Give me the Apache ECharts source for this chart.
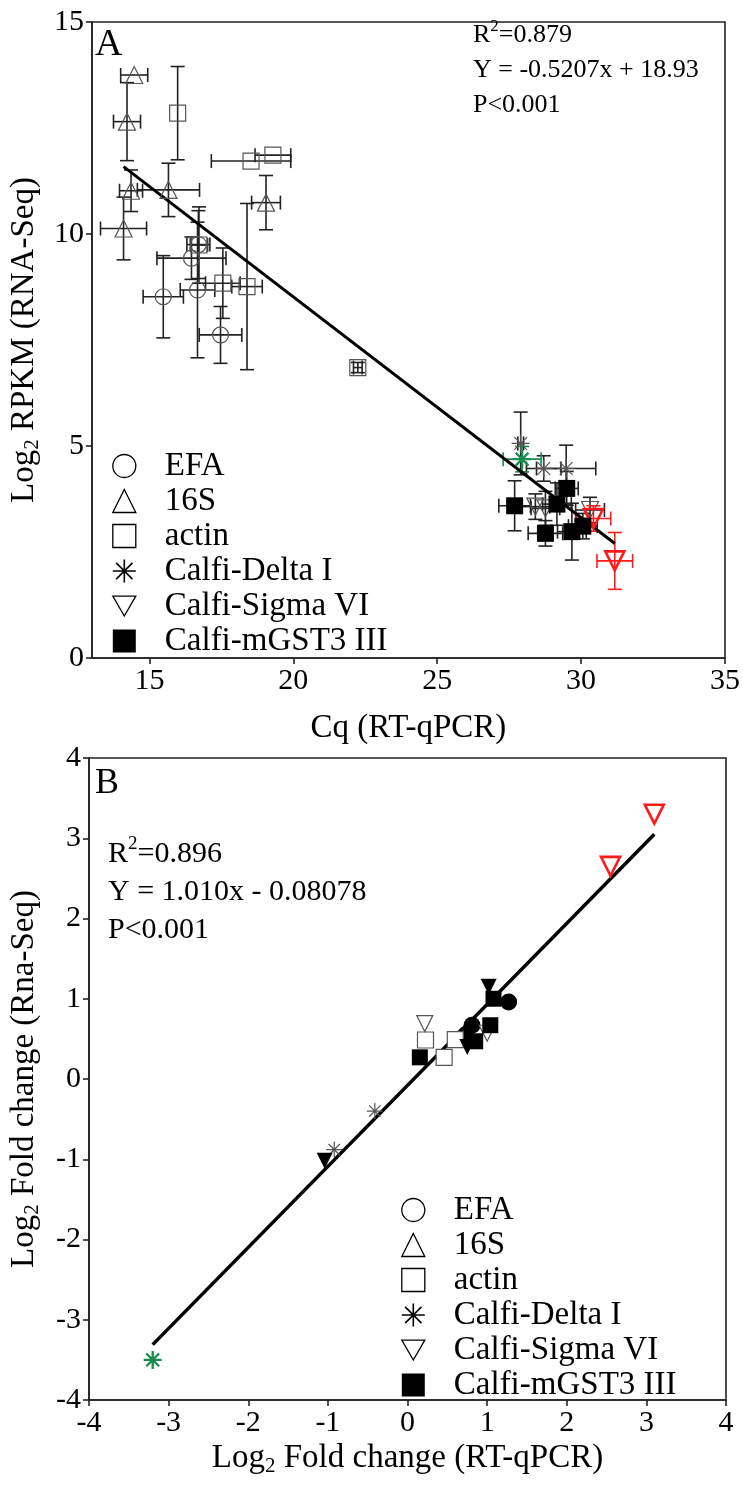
<!DOCTYPE html>
<html><head><meta charset="utf-8">
<script src="https://cdn.jsdelivr.net/npm/echarts@6/dist/echarts.min.js"></script>
<style>html,body{margin:0;padding:0;background:#fff}#c{width:743px;height:1504px}</style>
</head><body><div id="c"></div>
<script>
// ---------- Panel A: [Cq, log2 RPKM, xErr, yErr] ----------
const efaA = [[15.48,8.52,0.7,0.97],[17.47,7.62,0.74,0.67],[16.67,8.68,0.6,1.6],[16.46,9.43,1.2,0.5],[16.7,9.75,0.4,0.8]];
const s16A = [[14.47,13.75,0.47,0],[14.22,12.65,0.47,0.92],[15.66,11.04,1.08,0.63],[14.36,11.02,0.4,0.49],[14.10,10.13,0.8,0.74],[19.05,10.74,0.5,0.64]];
const actinA = [[15.98,12.85,0,1.1],[18.53,11.72,1.38,0],[19.29,11.86,0.62,0],[16.72,9.74,0.3,0.9],[17.55,8.84,0.6,0.83],[18.39,8.76,0.53,1.96],[22.24,6.85,0.15,0.12]];
const deltaA = [[27.9,5.06,0.1,0.74],[28.7,4.47,0.6,0.3],[29.48,4.47,1.03,0.55]];
const deltaGreenA = [[27.95,4.69,0.66,0.3]];
const sigmaA = [[28.41,3.57,0.5,0.3],[28.76,3.53,0.5,0.4],[30.31,3.49,0.5,0.3]];
const sigmaRedA = [[30.43,3.29,0.6,0.3],[31.17,2.29,0.62,0.67]];
const gstA = [[27.69,3.59,0.55,0.59],[29.5,4.0,0.4,0.4],[29.16,3.63,0.5,0.5],[28.76,2.94,0.6,0.3],[29.68,2.98,0.5,0.67],[30.06,3.11,0.5,0.3]];
const trendA = [[14.1,11.59],[31.17,2.70]];
const xTicksA = [15,20,25,30,35];
const yTicksA = [0,5,10,15];

// ---------- Panel B: [log2 FC RT-qPCR, log2 FC RNA-Seq] ----------
const efaB = [[1.27,0.96],[0.81,0.67],[0.73,0.55]];
const actinB = [[0.226,0.486],[0.46,0.27],[0.60,0.49]];
const deltaB = [[-0.41,-0.40],[-0.92,-0.88]];
const deltaGreenB = [[-3.2,-3.5]];
const sigmaOpenB = [[0.217,0.69],[1.0,0.57]];
const sigmaRedB = [[2.55,2.65],[3.1,3.3]];
const sigmaFilledB = [[-1.04,-1.02],[0.75,0.40],[1.02,1.15]];
const gstB = [[0.155,0.27],[0.85,0.47],[1.04,0.67],[1.08,1.0]];
const trendB = [[-3.2,-3.31],[3.1,3.05]];
const ticksB = [-4,-3,-2,-1,0,1,2,3,4];

const legendNames = ['EFA','16S','actin','Calfi-Delta I','Calfi-Sigma VI','Calfi-mGST3 III'];

const FONT = 'Liberation Serif';
const STAR = 'path://M5,0L5,10M0,5L10,5M1.46,1.46L8.54,8.54M8.54,1.46L1.46,8.54';
const INVTRI = 'path://M0,0L10,0L5,8.66Z';
const GRAY = '#555';

function errSeries(data, idx, color) {
  return {
    type: 'custom', xAxisIndex: idx, yAxisIndex: idx, data: data, silent: true, z: 1,
    encode: {x: 0, y: 1},
    renderItem: function (params, api) {
      const x = api.value(0), y = api.value(1), ex = api.value(2), ey = api.value(3);
      const cap = 7, ch = [];
      const st = {stroke: color, lineWidth: 1.6};
      function L(a, b, c, d) { ch.push({type: 'line', shape: {x1: a, y1: b, x2: c, y2: d}, style: st}); }
      if (ey > 0) {
        const t = api.coord([x, y + ey]), b = api.coord([x, y - ey]);
        L(t[0], t[1], b[0], b[1]); L(t[0] - cap, t[1], t[0] + cap, t[1]); L(b[0] - cap, b[1], b[0] + cap, b[1]);
      }
      if (ex > 0) {
        const l = api.coord([x - ex, y]), r = api.coord([x + ex, y]);
        L(l[0], l[1], r[0], r[1]); L(l[0], l[1] - cap, l[0], l[1] + cap); L(r[0], r[1] - cap, r[0], r[1] + cap);
      }
      return {type: 'group', children: ch};
    }
  };
}
function sc(name, data, idx, symbol, size, fill, stroke, bw) {
  return {
    type: 'scatter', name: name, xAxisIndex: idx, yAxisIndex: idx, z: 3,
    data: data.map(d => [d[0], d[1]]), symbol: symbol, symbolSize: size,
    itemStyle: {color: fill, borderColor: stroke, borderWidth: bw, opacity: 1},
    emphasis: {disabled: true}
  };
}

const legendData = [
  {name: 'EFA', icon: 'circle', itemStyle: {color: 'transparent', borderColor: '#000', borderWidth: 1.3}},
  {name: '16S', icon: 'triangle', itemStyle: {color: 'transparent', borderColor: '#000', borderWidth: 1.3}},
  {name: 'actin', icon: 'rect', itemStyle: {color: 'transparent', borderColor: '#000', borderWidth: 1.3}},
  {name: 'Calfi-Delta I', icon: STAR, itemStyle: {color: 'transparent', borderColor: '#000', borderWidth: 1.6}},
  {name: 'Calfi-Sigma VI', icon: INVTRI, itemStyle: {color: 'transparent', borderColor: '#000', borderWidth: 1.3}},
  {name: 'Calfi-mGST3 III', icon: 'rect', itemStyle: {color: '#000', borderColor: '#000', borderWidth: 0}}
];
function legend(left, top) {
  return {
    left: left, top: top, orient: 'vertical', itemWidth: 23, itemHeight: 23, itemGap: 1,
    selectedMode: false, data: legendData,
    textStyle: {fontFamily: FONT, fontSize: 33, color: '#000', lineHeight: 34, padding: [0, 0, 0, 24]}
  };
}

const axLine = {show: true, onZero: false, lineStyle: {color: '#222', width: 1.6}};
const axTick = {show: true, inside: false, length: 6, lineStyle: {color: '#222', width: 1.6}};
const axLabel = {fontFamily: FONT, fontSize: 30, color: '#000', margin: 8};
const subRich = {sub: {fontFamily: FONT, fontSize: 21, color: '#000', verticalAlign: 'bottom', padding: [16, 0, 0, 0]}};
const titleStyle = {fontFamily: FONT, fontSize: 33, color: '#000', rich: subRich};

const option = {
  animation: false,
  backgroundColor: '#fff',
  grid: [
    {left: 88, top: 22, width: 638, height: 636, show: true, borderColor: '#222', borderWidth: 1.6},
    {left: 88, top: 758, width: 638, height: 642, show: true, borderColor: '#222', borderWidth: 1.6}
  ],
  xAxis: [
    {gridIndex: 0, type: 'value', min: 13, max: 35, splitLine: {show: false},
     axisLine: axLine,
     axisTick: Object.assign({}, axTick, {customValues: xTicksA}),
     axisLabel: Object.assign({}, axLabel, {customValues: xTicksA}),
     name: 'Cq (RT-qPCR)', nameLocation: 'middle', nameGap: 54, nameTextStyle: titleStyle},
    {gridIndex: 1, type: 'value', min: -4, max: 4, interval: 1, splitLine: {show: false},
     axisLine: axLine, axisTick: axTick,
     axisLabel: Object.assign({}, axLabel, {formatter: v => ticksB.includes(v) ? String(v) : ''}),
     name: 'Log{sub|2} Fold change (RT-qPCR)', nameLocation: 'middle', nameGap: 40, nameTextStyle: titleStyle}
  ],
  yAxis: [
    {gridIndex: 0, type: 'value', min: 0, max: 15, interval: 5, splitLine: {show: false},
     axisLine: axLine, axisTick: axTick,
     axisLabel: Object.assign({}, axLabel, {formatter: v => yTicksA.includes(v) ? String(v) : ''}),
     name: 'Log{sub|2} RPKM (RNA-Seq)', nameLocation: 'middle', nameGap: 46, nameRotate: 90, nameTextStyle: titleStyle},
    {gridIndex: 1, type: 'value', min: -4, max: 4, interval: 1, splitLine: {show: false},
     axisLine: axLine, axisTick: axTick,
     axisLabel: Object.assign({}, axLabel, {formatter: v => ticksB.includes(v) ? String(v) : ''}),
     name: 'Log{sub|2} Fold change (Rna-Seq)', nameLocation: 'middle', nameGap: 46, nameRotate: 90, nameTextStyle: titleStyle}
  ],
  legend: [legend(107, 444), legend(396, 1188)],
  series: [
    errSeries(efaA, 0, '#222'), errSeries(s16A, 0, '#222'), errSeries(actinA, 0, '#222'),
    errSeries(deltaA, 0, '#222'), errSeries(sigmaA, 0, '#222'), errSeries(gstA, 0, '#222'),
    errSeries(deltaGreenA, 0, '#1a8c4e'), errSeries(sigmaRedA, 0, '#ff1a1a'),
    {type: 'line', xAxisIndex: 0, yAxisIndex: 0, data: trendA, symbol: 'none', z: 2,
     lineStyle: {color: '#000', width: 3}, silent: true},
    sc('EFA', efaA, 0, 'circle', 16, 'transparent', GRAY, 1.2),
    sc('16S', s16A, 0, 'triangle', 17, 'transparent', GRAY, 1.2),
    sc('actin', actinA, 0, 'rect', 16, 'transparent', GRAY, 1.2),
    sc('Calfi-Delta I', deltaA, 0, STAR, 18, 'transparent', GRAY, 1.2),
    sc('Calfi-Delta I', deltaGreenA, 0, STAR, 18, 'transparent', '#1a8c4e', 2.4),
    sc('Calfi-Sigma VI', sigmaA, 0, INVTRI, 17, 'transparent', GRAY, 1.2),
    sc('Calfi-Sigma VI', sigmaRedA, 0, INVTRI, 19, 'transparent', '#ff1a1a', 2.6),
    sc('Calfi-mGST3 III', gstA, 0, 'rect', 17, '#000', '#000', 0),
    {type: 'line', xAxisIndex: 1, yAxisIndex: 1, data: trendB, symbol: 'none', z: 2,
     lineStyle: {color: '#000', width: 3.5}, silent: true},
    sc('EFA', efaB, 1, 'circle', 17, '#000', '#000', 0),
    sc('actin', actinB, 1, 'rect', 16, '#fff', GRAY, 1.2),
    sc('Calfi-Delta I', deltaB, 1, STAR, 16, 'transparent', GRAY, 1.2),
    sc('Calfi-Delta I', deltaGreenB, 1, STAR, 18, 'transparent', '#1a8c4e', 2.4),
    sc('Calfi-Sigma VI', sigmaOpenB, 1, INVTRI, 16, '#fff', GRAY, 1.2),
    sc('Calfi-Sigma VI', sigmaRedB, 1, INVTRI, 19, 'transparent', '#ff1a1a', 2.6),
    sc('Calfi-Sigma VI', sigmaFilledB, 1, INVTRI, 16, '#000', '#000', 0),
    sc('Calfi-mGST3 III', gstB, 1, 'rect', 16, '#000', '#000', 0)
  ],
  graphic: [
    {type: 'text', left: 95, top: 26, style: {text: 'A', font: '38px "Liberation Serif"', fill: '#000'}},
    {type: 'text', left: 95, top: 766, style: {text: 'B', font: '36px "Liberation Serif"', fill: '#000'}},
    {type: 'text', left: 473, top: 18, style: {
      text: 'R{sup|2}=0.879\nY = -0.5207x + 18.93\nP<0.001', fill: '#000',
      font: '26px "Liberation Serif"', lineHeight: 35,
      rich: {sup: {fontFamily: FONT, fontSize: 17, verticalAlign: 'top', padding: [0, 0, 12, 0]}}}},
    {type: 'text', left: 108, top: 835, style: {
      text: 'R{sup|2}=0.896\nY = 1.010x - 0.08078\nP<0.001', fill: '#000',
      font: '30px "Liberation Serif"', lineHeight: 38,
      rich: {sup: {fontFamily: FONT, fontSize: 19, verticalAlign: 'top', padding: [0, 0, 13, 0]}}}}
  ]
};
echarts.init(document.getElementById('c')).setOption(option);
</script></body></html>
